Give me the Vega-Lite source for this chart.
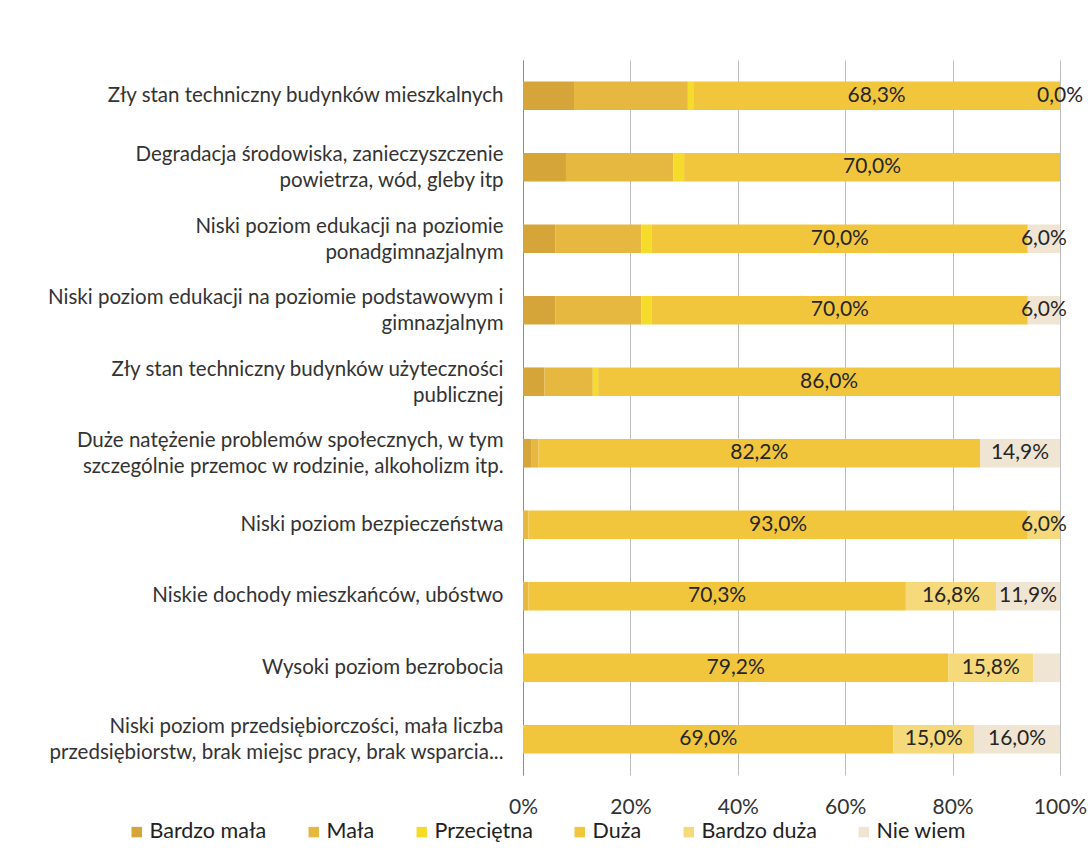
{
  "$schema": "https://vega.github.io/schema/vega-lite/v6.json",
  "width": 537,
  "height": 715,
  "autosize": "none",
  "padding": {"left": 523, "top": 60, "right": 32, "bottom": 73},
  "background": "white",
  "config": {
    "font": "Lato",
    "view": {"stroke": null},
    "axis": {"labelFont": "Lato", "labelColor": "#333333"},
    "legend": {"labelFont": "Lato"}
  },
  "data": {
    "values": [
      {"p": "Zły stan techniczny budynków mieszkalnych", "c": "Bardzo mała", "k": 1, "v": 9.5, "t": ""},
      {"p": "Zły stan techniczny budynków mieszkalnych", "c": "Mała", "k": 2, "v": 21.2, "t": ""},
      {"p": "Zły stan techniczny budynków mieszkalnych", "c": "Przeciętna", "k": 3, "v": 1.0, "t": ""},
      {"p": "Zły stan techniczny budynków mieszkalnych", "c": "Duża", "k": 4, "v": 68.3, "t": "68,3%"},
      {"p": "Zły stan techniczny budynków mieszkalnych", "c": "Bardzo duża", "k": 5, "v": 0, "t": "0,0%"},

      {"p": "Degradacja środowiska, zanieczyszczenie|powietrza, wód, gleby itp", "c": "Bardzo mała", "k": 1, "v": 8, "t": ""},
      {"p": "Degradacja środowiska, zanieczyszczenie|powietrza, wód, gleby itp", "c": "Mała", "k": 2, "v": 20, "t": ""},
      {"p": "Degradacja środowiska, zanieczyszczenie|powietrza, wód, gleby itp", "c": "Przeciętna", "k": 3, "v": 2, "t": ""},
      {"p": "Degradacja środowiska, zanieczyszczenie|powietrza, wód, gleby itp", "c": "Duża", "k": 4, "v": 70, "t": "70,0%"},

      {"p": "Niski poziom edukacji na poziomie|ponadgimnazjalnym", "c": "Bardzo mała", "k": 1, "v": 6, "t": ""},
      {"p": "Niski poziom edukacji na poziomie|ponadgimnazjalnym", "c": "Mała", "k": 2, "v": 16, "t": ""},
      {"p": "Niski poziom edukacji na poziomie|ponadgimnazjalnym", "c": "Przeciętna", "k": 3, "v": 2, "t": ""},
      {"p": "Niski poziom edukacji na poziomie|ponadgimnazjalnym", "c": "Duża", "k": 4, "v": 70, "t": "70,0%"},
      {"p": "Niski poziom edukacji na poziomie|ponadgimnazjalnym", "c": "Nie wiem", "k": 6, "v": 6, "t": "6,0%"},

      {"p": "Niski poziom edukacji na poziomie podstawowym i|gimnazjalnym", "c": "Bardzo mała", "k": 1, "v": 6, "t": ""},
      {"p": "Niski poziom edukacji na poziomie podstawowym i|gimnazjalnym", "c": "Mała", "k": 2, "v": 16, "t": ""},
      {"p": "Niski poziom edukacji na poziomie podstawowym i|gimnazjalnym", "c": "Przeciętna", "k": 3, "v": 2, "t": ""},
      {"p": "Niski poziom edukacji na poziomie podstawowym i|gimnazjalnym", "c": "Duża", "k": 4, "v": 70, "t": "70,0%"},
      {"p": "Niski poziom edukacji na poziomie podstawowym i|gimnazjalnym", "c": "Nie wiem", "k": 6, "v": 6, "t": "6,0%"},

      {"p": "Zły stan techniczny budynków użyteczności|publicznej", "c": "Bardzo mała", "k": 1, "v": 4, "t": ""},
      {"p": "Zły stan techniczny budynków użyteczności|publicznej", "c": "Mała", "k": 2, "v": 9, "t": ""},
      {"p": "Zły stan techniczny budynków użyteczności|publicznej", "c": "Przeciętna", "k": 3, "v": 1, "t": ""},
      {"p": "Zły stan techniczny budynków użyteczności|publicznej", "c": "Duża", "k": 4, "v": 86, "t": "86,0%"},

      {"p": "Duże natężenie problemów społecznych, w tym|szczególnie przemoc w rodzinie, alkoholizm itp.", "c": "Bardzo mała", "k": 1, "v": 1.5, "t": ""},
      {"p": "Duże natężenie problemów społecznych, w tym|szczególnie przemoc w rodzinie, alkoholizm itp.", "c": "Mała", "k": 2, "v": 1.4, "t": ""},
      {"p": "Duże natężenie problemów społecznych, w tym|szczególnie przemoc w rodzinie, alkoholizm itp.", "c": "Duża", "k": 4, "v": 82.2, "t": "82,2%"},
      {"p": "Duże natężenie problemów społecznych, w tym|szczególnie przemoc w rodzinie, alkoholizm itp.", "c": "Nie wiem", "k": 6, "v": 14.9, "t": "14,9%"},

      {"p": "Niski poziom bezpieczeństwa", "c": "Mała", "k": 2, "v": 1, "t": ""},
      {"p": "Niski poziom bezpieczeństwa", "c": "Duża", "k": 4, "v": 93, "t": "93,0%"},
      {"p": "Niski poziom bezpieczeństwa", "c": "Bardzo duża", "k": 5, "v": 6, "t": "6,0%"},

      {"p": "Niskie dochody mieszkańców, ubóstwo", "c": "Mała", "k": 2, "v": 1, "t": ""},
      {"p": "Niskie dochody mieszkańców, ubóstwo", "c": "Duża", "k": 4, "v": 70.3, "t": "70,3%"},
      {"p": "Niskie dochody mieszkańców, ubóstwo", "c": "Bardzo duża", "k": 5, "v": 16.8, "t": "16,8%"},
      {"p": "Niskie dochody mieszkańców, ubóstwo", "c": "Nie wiem", "k": 6, "v": 11.9, "t": "11,9%"},

      {"p": "Wysoki poziom bezrobocia", "c": "Duża", "k": 4, "v": 79.2, "t": "79,2%"},
      {"p": "Wysoki poziom bezrobocia", "c": "Bardzo duża", "k": 5, "v": 15.8, "t": "15,8%"},
      {"p": "Wysoki poziom bezrobocia", "c": "Nie wiem", "k": 6, "v": 5.0, "t": ""},

      {"p": "Niski poziom przedsiębiorczości, mała liczba|przedsiębiorstw, brak miejsc pracy, brak wsparcia...", "c": "Duża", "k": 4, "v": 69, "t": "69,0%"},
      {"p": "Niski poziom przedsiębiorczości, mała liczba|przedsiębiorstw, brak miejsc pracy, brak wsparcia...", "c": "Bardzo duża", "k": 5, "v": 15, "t": "15,0%"},
      {"p": "Niski poziom przedsiębiorczości, mała liczba|przedsiębiorstw, brak miejsc pracy, brak wsparcia...", "c": "Nie wiem", "k": 6, "v": 16, "t": "16,0%"}
    ]
  },
  "encoding": {
    "y": {
      "field": "p",
      "type": "nominal",
      "sort": null,
      "title": null,
      "scale": {"paddingInner": 0.6, "paddingOuter": 0.3},
      "axis": {
        "labelExpr": "split(datum.value, '|')",
        "labelFontSize": 20.5,
        "labelLineHeight": 26,
        "labelPadding": 20,
        "labelLimit": 520,
        "labelOffset": {"condition": {"test": "indexof(datum.value, '|') >= 0", "value": -12}, "value": 0},
        "ticks": false,
        "domain": true,
        "domainColor": "#8c8c8c",
        "grid": false
      }
    }
  },
  "layer": [
    {
      "mark": {"type": "bar"},
      "encoding": {
        "x": {
          "field": "v",
          "type": "quantitative",
          "stack": "zero",
          "title": null,
          "scale": {"domain": [0, 100], "nice": false},
          "axis": {
            "values": [0, 20, 40, 60, 80, 100],
            "labelExpr": "datum.value + '%'",
            "labelFontSize": 21,
            "labelPadding": 21,
            "labelFlush": false,
            "ticks": false,
            "domain": false,
            "grid": true,
            "gridColor": "#bdbdbd",
            "gridWidth": 1
          }
        },
        "order": {"field": "k", "type": "quantitative"},
        "color": {
          "field": "c",
          "type": "nominal",
          "title": null,
          "scale": {
            "domain": ["Bardzo mała", "Mała", "Przeciętna", "Duża", "Bardzo duża", "Nie wiem"],
            "range": ["#d6a53a", "#e6b840", "#f6dc2a", "#f2c63c", "#f5d97a", "#f0e5d3"]
          },
          "legend": {
            "orient": "none",
            "direction": "horizontal",
            "legendX": -397,
            "legendY": 761,
            "symbolType": "square",
            "symbolSize": 110,
            "symbolStrokeWidth": 0,
            "labelFontSize": 21.5,
            "labelColor": "#222222",
            "labelOffset": 2,
            "columnPadding": 36,
            "symbolOffset": 0
          }
        }
      }
    },
    {
      "mark": {"type": "text", "fontSize": 21, "color": "#262626", "baseline": "middle"},
      "encoding": {
        "x": {"field": "v", "type": "quantitative", "stack": "zero", "bandPosition": 0.5},
        "order": {"field": "k", "type": "quantitative"},
        "text": {"field": "t"}
      }
    }
  ]
}
